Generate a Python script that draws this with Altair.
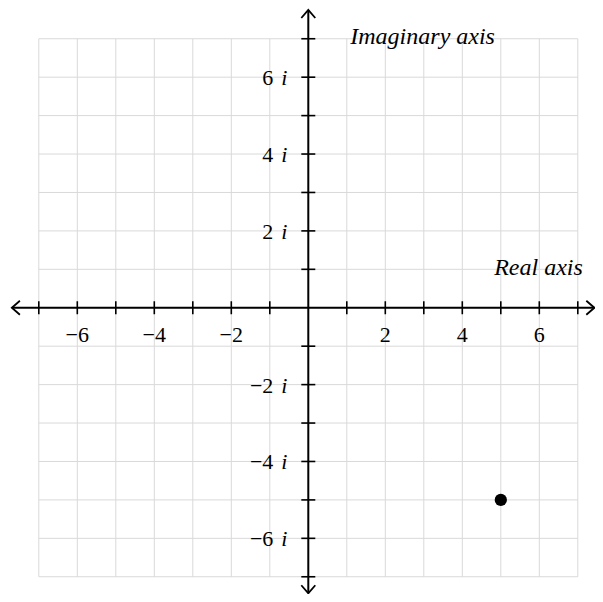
import altair as alt
import pandas as pd

# ---- data ----
grid_vals = list(range(-7, 8))
tick_vals = [v for v in range(-7, 8) if v != 0]
label_vals = [-6, -4, -2, 2, 4, 6]
x_labels = ["\u22126", "\u22124", "\u22122", "2", "4", "6"]
y_labels = ["\u22126", "\u22124", "\u22122", "2", "4", "6"]
point_re = [5]
point_im = [-5]
grid_lo, grid_hi = -7, 7
x_axis_ends = [-7.7, 7.43]
y_axis_ends = [-7.43, 7.75]

W, H = 587, 586
UNIT_X, UNIT_Y = 38.5, 38.43
XD = [-7.8, -7.8 + W / UNIT_X]
YD = [7.8 - H / UNIT_Y, 7.8]
xs = alt.Scale(domain=XD, nice=False, zero=False)
ys = alt.Scale(domain=YD, nice=False, zero=False)
FONT = "Liberation Serif, Times New Roman, Times, serif"

grid_df = pd.DataFrame({"v": grid_vals, "lo": grid_lo, "hi": grid_hi})
tick_df = pd.DataFrame({"v": tick_vals, "z": 0})
lab_df = pd.DataFrame({"v": label_vals, "xl": x_labels, "yl": y_labels, "z": 0, "i": "i"})
pt_df = pd.DataFrame({"re": point_re, "im": point_im})
xaxis_df = pd.DataFrame({"a": [x_axis_ends[0]], "b": [x_axis_ends[1]], "z": [0]})
yaxis_df = pd.DataFrame({"a": [y_axis_ends[0]], "b": [y_axis_ends[1]], "z": [0]})
arrow_df = pd.DataFrame({
    "x": [x_axis_ends[0], x_axis_ends[1], 0, 0],
    "y": [0, 0, y_axis_ends[1], y_axis_ends[0]],
    "dir": ["left", "right", "up", "down"],
})
arrow_paths = [
    "M 1.15 -1 L 0 0 L 1.15 1",
    "M -1.15 -1 L 0 0 L -1.15 1",
    "M -1 1.15 L 0 0 L 1 1.15",
    "M -1 -1.15 L 0 0 L 1 -1.15",
]

X = lambda f: alt.X(f, type="quantitative", scale=xs, axis=None)
Y = lambda f: alt.Y(f, type="quantitative", scale=ys, axis=None)

gridc = "#d9d9d9"
vgrid = alt.Chart(grid_df).mark_rule(color=gridc, strokeWidth=1).encode(
    x=X("v"), y=Y("lo"), y2="hi")
hgrid = alt.Chart(grid_df).mark_rule(color=gridc, strokeWidth=1).encode(
    y=Y("v"), x=X("lo"), x2="hi")

xaxis = alt.Chart(xaxis_df).mark_rule(color="black", strokeWidth=2).encode(
    x=X("a"), x2="b", y=Y("z"))
yaxis = alt.Chart(yaxis_df).mark_rule(color="black", strokeWidth=2).encode(
    y=Y("a"), y2="b", x=X("z"))

xticks = alt.Chart(tick_df).mark_tick(color="black", orient="vertical", size=13,
                                      thickness=1.6, opacity=1).encode(x=X("v"), y=Y("z"))
yticks = alt.Chart(tick_df).mark_tick(color="black", orient="horizontal", size=14,
                                      thickness=1.6, opacity=1).encode(y=Y("v"), x=X("z"))

arrows = alt.Chart(arrow_df).mark_point(filled=False, stroke="black", strokeWidth=1.8,
                                        size=196, opacity=1).encode(
    x=X("x"), y=Y("y"),
    shape=alt.Shape("dir:N", scale=alt.Scale(domain=["left", "right", "up", "down"],
                                             range=arrow_paths), legend=None))

xlab = alt.Chart(lab_df).mark_text(font=FONT, fontSize=22, align="center",
                                   baseline="alphabetic", dy=34, color="black").encode(
    x=X("v"), y=Y("z"), text="xl:N")
ylab_num = alt.Chart(lab_df).mark_text(font=FONT, fontSize=22, align="right",
                                       baseline="middle", dx=-35, dy=1, color="black").encode(
    y=Y("v"), x=X("z"), text="yl:N")
ylab_i = alt.Chart(lab_df).mark_text(font=FONT, fontSize=22, fontStyle="italic", align="left",
                                     baseline="middle", dx=-27, dy=1, color="black").encode(
    y=Y("v"), x=X("z"), text="i:N")

title_df = pd.DataFrame({"x": [0, 7], "y": [7, 0], "t": ["Imaginary axis", "Real axis"]})
im_title = alt.Chart(title_df.iloc[[0]]).mark_text(font=FONT, fontSize=24, fontStyle="italic",
                                                  align="left", baseline="alphabetic",
                                                  dx=42, dy=5, color="black").encode(
    x=X("x"), y=Y("y"), text="t:N")
re_title = alt.Chart(title_df.iloc[[1]]).mark_text(font=FONT, fontSize=24, fontStyle="italic",
                                                  align="right", baseline="alphabetic",
                                                  dx=5, dy=-33, color="black").encode(
    x=X("x"), y=Y("y"), text="t:N")

pt = alt.Chart(pt_df).mark_circle(color="black", size=150, opacity=1).encode(
    x=X("re"), y=Y("im"))

chart = alt.layer(vgrid, hgrid, xaxis, yaxis, xticks, yticks, arrows,
                  xlab, ylab_num, ylab_i, im_title, re_title, pt).properties(
    width=W, height=H, autosize=alt.AutoSizeParams(type="none"), padding=0,
    background="white"
).configure_view(stroke=None)

chart.save("out.html", embed_options={"renderer": "svg", "actions": False})
